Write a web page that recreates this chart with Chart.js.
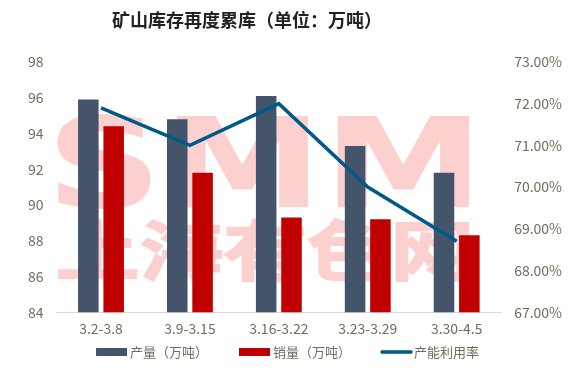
<!DOCTYPE html>
<html>
<head>
<meta charset="utf-8">
<script src="https://cdn.jsdelivr.net/npm/chart.js@4"></script>
<style>
  html, body { margin: 0; padding: 0; background: #fff; }
  #wrap { width: 577px; height: 374px; }
</style>
</head>
<body>
<div id="wrap"><canvas id="c" width="577" height="374"></canvas></div>
<script>
// data
const weeks = ['3.2-3.8', '3.9-3.15', '3.16-3.22', '3.23-3.29', '3.30-4.5'];
const output = [95.9, 94.8, 96.1, 93.3, 91.8];      // 产量（万吨）
const sales = [94.4, 91.8, 89.3, 89.2, 88.3];       // 销量（万吨）
const utilization = [71.9, 71.0, 72.0, 70.0, 68.7]; // 产能利用率 %
const leftTicks = [84, 86, 88, 90, 92, 94, 96, 98];
const rightTicks = [67, 68, 69, 70, 71, 72, 73];

const TEXT = '#6f6f5f';
const FONT = "'Noto Sans CJK SC', 'Noto Sans', sans-serif";

// fit a text string into a box by scaling
function fitText(ctx, str, x0, y0, x1, y1, stroke) {
  ctx.save();
  ctx.textBaseline = 'alphabetic';
  const m = ctx.measureText(str);
  const w = m.actualBoundingBoxLeft + m.actualBoundingBoxRight;
  const h = m.actualBoundingBoxAscent + m.actualBoundingBoxDescent;
  ctx.translate(x0, y0);
  ctx.scale((x1 - x0) / w, (y1 - y0) / h);
  ctx.fillText(str, m.actualBoundingBoxLeft, m.actualBoundingBoxAscent);
  if (stroke) {
    ctx.lineWidth = stroke;
    ctx.lineJoin = 'miter';
    ctx.strokeText(str, m.actualBoundingBoxLeft, m.actualBoundingBoxAscent);
  }
  ctx.restore();
}

const extras = {
  id: 'extras',
  beforeDatasetsDraw(chart) {
    const ctx = chart.ctx;
    ctx.save();
    ctx.fillStyle = ctx.strokeStyle = '#fdd0d0';
    ctx.font = "bold 100px 'DejaVu Sans', sans-serif";
    fitText(ctx, 'SMM', 57, 113, 470, 208);
    ctx.font = "bold 80px 'Noto Sans CJK SC', sans-serif";
    fitText(ctx, '上海有色网', 59, 219, 468, 282, 2.5);
    ctx.restore();
  },
  afterDraw(chart) {
    const ctx = chart.ctx;
    ctx.save();
    // title
    ctx.fillStyle = '#222';
    ctx.font = 'bold 18px ' + FONT;
    ctx.textAlign = 'center';
    ctx.textBaseline = 'middle';
    ctx.fillText('矿山库存再度累库（单位：万吨）', 247, 20);

    // legend, built from the datasets
    const y = 352;
    const starts = [96, 239, 380];
    ctx.font = '13px ' + FONT;
    ctx.textAlign = 'left';
    chart.data.datasets.forEach((ds, i) => {
      const x = starts[i];
      if (ds.type === 'line') {
        ctx.strokeStyle = ds.borderColor;
        ctx.lineWidth = 3.5;
        ctx.lineCap = 'round';
        ctx.beginPath();
        ctx.moveTo(x + 2, y);
        ctx.lineTo(x + 31, y);
        ctx.stroke();
      } else {
        ctx.fillStyle = ds.backgroundColor;
        ctx.fillRect(x, y - 4, 31, 8);
      }
      ctx.fillStyle = TEXT;
      ctx.fillText(ds.label, x + 34, y);
    });
    ctx.restore();
  }
};

new Chart(document.getElementById('c'), {
  type: 'bar',
  data: {
    labels: weeks,
    datasets: [
      {
        label: '产量（万吨）', data: output, backgroundColor: '#44546a',
        yAxisID: 'y', order: 1,
        categoryPercentage: 0.57, barPercentage: 0.81
      },
      {
        label: '销量（万吨）', data: sales, backgroundColor: '#c00000',
        yAxisID: 'y', order: 1,
        categoryPercentage: 0.57, barPercentage: 0.81
      },
      {
        type: 'line', label: '产能利用率', data: utilization, yAxisID: 'y2',
        borderColor: '#005a87', backgroundColor: '#005a87', borderWidth: 3.5,
        pointRadius: 0, order: 0, tension: 0
      }
    ]
  },
  options: {
    responsive: false,
    animation: false,
    layout: { padding: { top: 62, left: 15, right: 2, bottom: 29 } },
    plugins: {
      title: { display: false },
      tooltip: { enabled: false },
      legend: { display: false }
    },
    scales: {
      x: {
        grid: { display: false, drawTicks: false },
        border: { color: '#d9d9d9', width: 1 },
        ticks: { color: TEXT, font: { family: FONT, size: 14 }, padding: 8 }
      },
      y: {
        position: 'left', min: 84, max: 98,
        afterBuildTicks: axis => { axis.ticks = leftTicks.map(v => ({ value: v })); },
        grid: { display: false, drawTicks: false },
        border: { display: false },
        ticks: { color: TEXT, font: { family: FONT, size: 14 }, padding: 13 }
      },
      y2: {
        position: 'right', min: 67, max: 73,
        afterBuildTicks: axis => { axis.ticks = rightTicks.map(v => ({ value: v })); },
        grid: { display: false, drawTicks: false },
        border: { display: false },
        ticks: {
          color: TEXT, font: { family: FONT, size: 14 }, padding: 13,
          callback: v => v.toFixed(2) + '%'
        }
      }
    }
  },
  plugins: [extras]
});
</script>
</body>
</html>
